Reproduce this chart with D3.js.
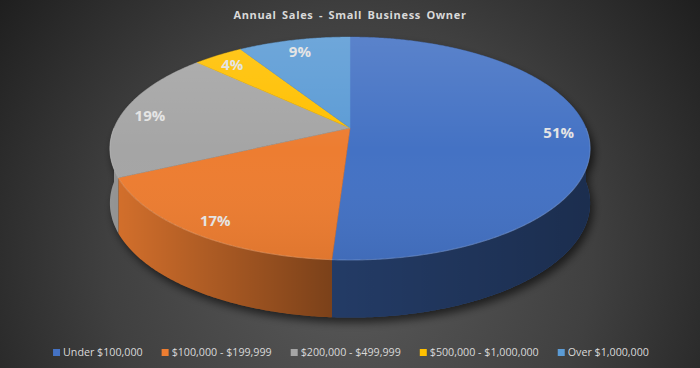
<!DOCTYPE html>
<html>
<head>
<meta charset="utf-8">
<script src="https://cdn.jsdelivr.net/npm/d3@7"></script>
<style>
  html, body { margin: 0; padding: 0; background: #2b2b2b; }
  svg { display: block; }
</style>
</head>
<body>
<div id="chart"></div>
<script>
// chart data
const title = "Annual Sales - Small Business Owner";
const categories = ["Under $100,000", "$100,000 - $199,999", "$200,000 - $499,999", "$500,000 - $1,000,000", "Over $1,000,000"];
const shares = [51, 17, 19, 4, 9];
const shareLabels = ["51%", "17%", "19%", "4%", "9%"];
const colors = ["#4472C4", "#ED7D31", "#A5A5A5", "#FFC000", "#5B9BD5"];

const W = 700, H = 368;

// 3d pie geometry (perspective view)
const cx0 = 350, cy0 = 128;   // apex of the slices
const R = 236, Ry = 107.7;    // radius across / depth-wise radius
const k = 0.184;              // perspective factor
const labelFrac = 0.88;

const depthAt = w => 54 * Math.pow(w, 0.32);

// phi: 0 = back (12 o'clock), clockwise seen from above
function proj(phi, f, down) {
    const sx = f * Math.sin(phi), sz = -f * Math.cos(phi);
    const w = 1 / (1 - k * sz);
    let y = cy0 + Ry * sz * w;
    if (down) y += depthAt(w);
    return [cx0 + R * sx * w, y];
}

function rim(a, b, down) {
    const n = Math.max(2, Math.ceil((b - a) / (Math.PI / 360)));
    return d3.range(n + 1).map(i => proj(a + (b - a) * i / n, 1, down));
}

const line = d3.line();

const svg = d3.select("#chart").append("svg")
    .attr("width", W).attr("height", H);

const defs = svg.append("defs");

const bg = defs.append("radialGradient").attr("id", "bg")
    .attr("gradientUnits", "userSpaceOnUse")
    .attr("cx", 350).attr("cy", 260).attr("r", 440);
bg.append("stop").attr("offset", 0).attr("stop-color", "#5a5a5a");
bg.append("stop").attr("offset", 0.55).attr("stop-color", "#404040");
bg.append("stop").attr("offset", 1).attr("stop-color", "#1e1e1e");

const sideShade = defs.append("linearGradient").attr("id", "sideShade")
    .attr("gradientUnits", "userSpaceOnUse")
    .attr("x1", 110).attr("x2", 590).attr("y1", 0).attr("y2", 0);
sideShade.append("stop").attr("offset", 0).attr("stop-color", "#000").attr("stop-opacity", 0.1);
sideShade.append("stop").attr("offset", 0.46).attr("stop-color", "#000").attr("stop-opacity", 0.48);
sideShade.append("stop").attr("offset", 1).attr("stop-color", "#000").attr("stop-opacity", 0.6);

const topShade = defs.append("linearGradient").attr("id", "topShade")
    .attr("gradientUnits", "userSpaceOnUse")
    .attr("x1", 0).attr("x2", 0).attr("y1", 37).attr("y2", 262);
topShade.append("stop").attr("offset", 0).attr("stop-color", "#fff").attr("stop-opacity", 0.12);
topShade.append("stop").attr("offset", 0.5).attr("stop-color", "#fff").attr("stop-opacity", 0.0);
topShade.append("stop").attr("offset", 1).attr("stop-color", "#000").attr("stop-opacity", 0.06);

const blur = defs.append("filter").attr("id", "shadow")
    .attr("x", "-20%").attr("y", "-20%").attr("width", "140%").attr("height", "140%");
blur.append("feGaussianBlur").attr("stdDeviation", 4);

svg.append("rect").attr("width", W).attr("height", H).attr("fill", "url(#bg)");

// title
svg.append("text")
    .attr("x", W / 2).attr("y", 19)
    .attr("text-anchor", "middle")
    .attr("font-family", "'Open Sans', sans-serif")
    .attr("font-size", 11).attr("font-weight", "bold")
    .attr("letter-spacing", 0.65).attr("word-spacing", 2)
    .attr("fill", "#d9d9d9")
    .text(title);

const pie = d3.pie().sort(null).startAngle(0).endAngle(2 * Math.PI);
const arcs = pie(shares);

// silhouette for the drop shadow
const outline = rim(0, 2 * Math.PI, false);
const lo = Math.PI / 2, hi = 3 * Math.PI / 2;
const silhouette = rim(lo, hi, false).concat(rim(lo, hi, true).reverse());
svg.append("g").attr("transform", "translate(3,5)")
    .attr("filter", "url(#shadow)")
    .selectAll("path")
    .data([outline, silhouette])
    .join("path")
    .attr("d", d => line(d) + "Z")
    .attr("fill", "#000").attr("fill-opacity", 0.6);

// sides
const sides = svg.append("g");
arcs.forEach((d, i) => {
    const a = Math.max(d.startAngle, lo), b = Math.min(d.endAngle, hi);
    if (a >= b) return;
    const pts = rim(a, b, false).concat(rim(a, b, true).reverse());
    sides.append("path").attr("d", line(pts) + "Z").attr("fill", colors[i]);
    sides.append("path").attr("d", line(pts) + "Z").attr("fill", "url(#sideShade)");
});

// top faces
const tops = svg.append("g");
tops.selectAll("path")
    .data(arcs)
    .join("path")
    .attr("d", d => line([[cx0, cy0]].concat(rim(d.startAngle, d.endAngle, false))) + "Z")
    .attr("fill", (d, i) => colors[i])
    .attr("stroke", (d, i) => colors[i]).attr("stroke-width", 0.5);
tops.append("path")
    .attr("d", line(outline) + "Z")
    .attr("fill", "url(#topShade)");
// soft bevel on the front rim
tops.append("path")
    .attr("d", line(rim(lo, hi, false)))
    .attr("fill", "none").attr("stroke", "#fff").attr("stroke-opacity", 0.15).attr("stroke-width", 1.2);

// data labels
svg.append("g").selectAll("text")
    .data(arcs)
    .join("text")
    .attr("transform", d => {
        const p = proj((d.startAngle + d.endAngle) / 2, labelFrac, false);
        return `translate(${p[0]},${p[1] + 2})`;
    })
    .attr("text-anchor", "middle").attr("dy", "0.36em")
    .attr("font-family", "'Open Sans', sans-serif")
    .attr("font-size", 15).attr("font-weight", "bold")
    .attr("fill", "#e4e4e4")
    .text((d, i) => shareLabels[i]);

// legend
const legend = svg.append("g");
const items = legend.selectAll("g").data(categories).join("g");
items.append("rect").attr("width", 7).attr("height", 7).attr("y", -7)
    .attr("fill", (d, i) => colors[i]);
items.append("text").attr("x", 10)
    .attr("font-family", "'Open Sans', sans-serif")
    .attr("font-size", 10.7)
    .attr("fill", "#d9d9d9")
    .text(d => d);
let xPos = 0;
items.each(function () {
    const wText = d3.select(this).select("text").node().getComputedTextLength();
    d3.select(this).attr("transform", `translate(${xPos},0)`);
    xPos += 10 + wText + 19;
});
const total = xPos - 19;
legend.attr("transform", `translate(${(W - total) / 2 + 1},356)`);
</script>
</body>
</html>
